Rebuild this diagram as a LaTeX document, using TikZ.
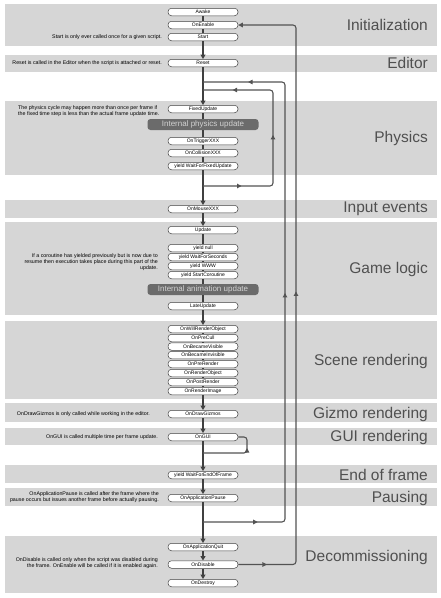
\documentclass[tikz,border=0pt]{standalone}
\usepackage{fontspec}
\setmainfont{Liberation Sans}
\usetikzlibrary{arrows.meta, decorations.markings}

\definecolor{bandgray}{HTML}{D6D6D6}
\definecolor{bargray}{HTML}{6B6B6B}
\definecolor{linegray}{HTML}{404040}
\definecolor{labelgray}{HTML}{505050}

\begin{document}
\begin{tikzpicture}[x=1pt,y=-1pt,
  band/.style={fill=bandgray,draw=none},
  call/.style={draw=linegray,fill=white,line width=0.5pt,rounded corners=3.5pt,minimum width=70pt,minimum height=7.5pt,inner sep=0pt,font=\fontsize{5}{5}\selectfont},
  innerbar/.style={fill=bargray,text=gray!35,rounded corners=3pt,minimum width=111pt,minimum height=11pt,inner sep=0pt,font=\fontsize{8}{8}\selectfont},
  phase/.style={anchor=east,inner sep=0pt,text=labelgray,font=\fontsize{15.5}{16}\selectfont},
  note/.style={anchor=east,align=right,inner sep=0pt,font=\fontsize{5.3}{5.9}\selectfont},
  flow/.style={draw=linegray,line width=1.3pt},
  flowarr/.style={flow,-{Triangle[length=4.5pt,width=5pt]}},
  loopline/.style={draw=gray!65!black,line width=1.1pt,rounded corners=3pt},
  midtip/.style={postaction={decorate,decoration={markings,mark=at position #1 with {\arrow{Triangle[length=4.5pt,width=4.5pt]}}}}},
]
\useasboundingbox (0,0) rectangle (441,598);

% phase bands
\fill[band] (5,4) rectangle (437,46);
\fill[band] (5,55) rectangle (437,72);
\fill[band] (5,101) rectangle (437,175);
\fill[band] (5,200) rectangle (437,218);
\fill[band] (5,222) rectangle (437,315);
\fill[band] (5,321) rectangle (437,399);
\fill[band] (5,403) rectangle (437,422);
\fill[band] (5,428) rectangle (437,445);
\fill[band] (5,465) rectangle (437,483);
\fill[band] (5,488) rectangle (437,506);
\fill[band] (5,536) rectangle (437,593);

\node[phase] (initlbl) at (428,25) {Initialization};
\node[phase] (editorlbl) at (428,63) {Editor};
\node[phase] (physicslbl) at (428,138) {Physics};
\node[phase] (inputlbl) at (428,209) {Input events};
\node[phase] (gamelbl) at (428,269) {Game logic};
\node[phase] (scenelbl) at (428,361) {Scene rendering};
\node[phase] (gizmolbl) at (428,414) {Gizmo rendering};
\node[phase] (guilbl) at (428,437) {GUI rendering};
\node[phase] (eoflbl) at (428,475) {End of frame};
\node[phase] (pauselbl) at (428,498) {Pausing};
\node[phase] (decomlbl) at (428,557) {Decommissioning};

% notes
\node[note] (startnote) at (162,37) {Start is only ever called once for a given script.};
\node[note] (resetnote) at (162,63) {Reset is called in the Editor when the script is attached or reset.};
\node[note,anchor=west,align=left] (physnote) at (18,111.5) {The physics cycle may happen more than once per frame if\\the fixed time step is less than the actual frame update time.};
\node[note] (coronote) at (158,262) {If a coroutine has yielded previously but is now due to\\resume then execution takes place during this part of the\\update.};
\node[note] (gizmonote) at (150,414) {OnDrawGizmos is only called while working in the editor.};
\node[note] (guinote) at (158,437) {OnGUI is called multiple time per frame update.};
\node[note] (pausenote) at (159,497.5) {OnApplicationPause is called after the frame where the\\pause occurs but issues another frame before actually pausing.};
\node[note] (disablenote) at (158,563.5) {OnDisable is called only when the script was disabled during\\the frame. OnEnable will be called if it is enabled again.};

% calls
\node[call] (awake) at (203,12) {Awake};
\node[call] (onenable) at (203,25) {OnEnable};
\node[call] (start) at (203,37) {Start};
\node[call] (reset) at (203,63) {Reset};
\node[call] (fixedupdate) at (203,109) {FixedUpdate};
\node[innerbar] (physbar) at (203,124.5) {Internal physics update};
\node[call] (ontrigger) at (203,141) {OnTriggerXXX};
\node[call] (oncollision) at (203,153) {OnCollisionXXX};
\node[call] (yieldfixed) at (203,166) {yield WaitForFixedUpdate};
\node[call] (onmouse) at (203,209) {OnMouseXXX};
\node[call] (update) at (203,230) {Update};
\node[call] (yieldnull) at (203,248) {yield null};
\node[call] (yieldwait) at (203,257) {yield WaitForSeconds};
\node[call] (yieldwww) at (203,266) {yield WWW};
\node[call] (yieldstart) at (203,275) {yield StartCoroutine};
\node[innerbar] (animbar) at (203,289.5) {Internal animation update};
\node[call] (lateupdate) at (203,306) {LateUpdate};
\node[call] (onwillrender) at (203,329) {OnWillRenderObject};
\node[call] (onprecull) at (203,338) {OnPreCull};
\node[call] (onvisible) at (203,346.5) {OnBecameVisible};
\node[call] (oninvisible) at (203,355) {OnBecameInvisible};
\node[call] (onprerender) at (203,364) {OnPreRender};
\node[call] (onrenderobj) at (203,373) {OnRenderObject};
\node[call] (onpostrender) at (203,382) {OnPostRender};
\node[call] (onrenderimage) at (203,391) {OnRenderImage};
\node[call] (ondrawgizmos) at (203,414) {OnDrawGizmos};
\node[call] (ongui) at (203,437) {OnGUI};
\node[call] (yieldeof) at (203,475) {yield WaitForEndOfFrame};
\node[call] (onpause) at (203,498) {OnApplicationPause};
\node[call] (onquit) at (203,547) {OnApplicationQuit};
\node[call] (ondisable) at (203,564.5) {OnDisable};
\node[call] (ondestroy) at (203,583) {OnDestroy};

\coordinate (framejoin) at (203,82);
\coordinate (physjoin) at (203,90);
\coordinate (physret) at (203,186);
\coordinate (guiret) at (203,453);
\coordinate (frameret) at (203,522);

% main flow
\draw[flow] (awake) -- (onenable);
\draw[flow] (onenable) -- (start);
\draw[flowarr] (start) -- (reset);
\draw[flowarr] (reset) -- (fixedupdate);
\draw[flow] (fixedupdate) -- (physbar);
\draw[flow] (physbar) -- (ontrigger);
\draw[flow] (ontrigger) -- (oncollision);
\draw[flow] (oncollision) -- (yieldfixed);
\draw[flowarr] (yieldfixed) -- (onmouse);
\draw[flowarr] (onmouse) -- (update);
\draw[flow] (update) -- (yieldnull);
\draw[flow] (yieldnull) -- (yieldwait);
\draw[flow] (yieldwait) -- (yieldwww);
\draw[flow] (yieldwww) -- (yieldstart);
\draw[flow] (yieldstart) -- (animbar);
\draw[flow] (animbar) -- (lateupdate);
\draw[flowarr] (lateupdate) -- (onwillrender);
\draw[flow] (onwillrender) -- (onprecull);
\draw[flow] (onprecull) -- (onvisible);
\draw[flow] (onvisible) -- (oninvisible);
\draw[flow] (oninvisible) -- (onprerender);
\draw[flow] (onprerender) -- (onrenderobj);
\draw[flow] (onrenderobj) -- (onpostrender);
\draw[flow] (onpostrender) -- (onrenderimage);
\draw[flowarr] (onrenderimage) -- (ondrawgizmos);
\draw[flowarr] (ondrawgizmos) -- (ongui);
\draw[flowarr] (ongui) -- (yieldeof);
\draw[flowarr] (yieldeof) -- (onpause);
\draw[flowarr] (onpause) -- (onquit);
\draw[flowarr] (onquit) -- (ondisable);
\draw[flowarr] (ondisable) -- (ondestroy);

% loops back
\draw[loopline,midtip=0.165,midtip=0.513,midtip=0.873] (physret) -- (273,186) -- (273,90) -- (physjoin);
\draw[loopline,midtip=0.091,midtip=0.515,midtip=0.925] (frameret) -- (285,522) -- (285,82) -- (framejoin);
\draw[loopline,midtip=0.044,midtip=0.505,-{Triangle[length=4.5pt,width=4.5pt]}] (ondisable) -- (296,564.5) -- (296,25) -- (onenable);
\draw[loopline,midtip=0.72] (guiret) -- (247,453) -- (247,437) -- (ongui);
\end{tikzpicture}
\end{document}
